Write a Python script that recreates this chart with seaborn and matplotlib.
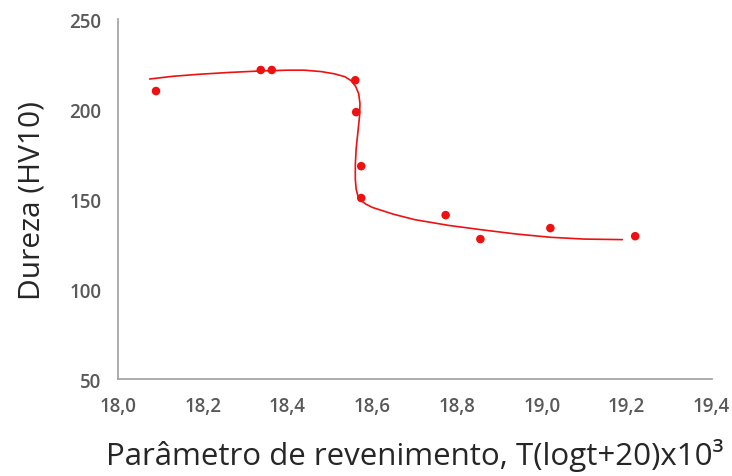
import matplotlib
matplotlib.use("Agg")
import matplotlib.pyplot as plt
import seaborn as sns
import pandas as pd

# measured points
param = [18.09, 18.337, 18.363, 18.56, 18.562, 18.574, 18.574, 18.773, 18.855, 19.02, 19.22]
dureza = [210, 221.7, 221.7, 216, 198.3, 168.3, 150.6, 141.1, 127.8, 133.9, 129.4]

# trend curve
curve_x = [18.075, 18.13, 18.19, 18.26, 18.33, 18.40, 18.44, 18.48, 18.51, 18.535,
           18.55, 18.561, 18.568, 18.571, 18.570, 18.566, 18.562, 18.560, 18.560,
           18.562, 18.566, 18.573, 18.585, 18.60, 18.65, 18.70, 18.78, 18.86,
           18.94, 19.02, 19.10, 19.19]
curve_y = [216.7, 218.2, 219.3, 220.3, 221.1, 221.6, 221.6, 220.8, 219.6, 218.0,
           215.8, 212.5, 208.5, 203.0, 196.0, 187.0, 178.0, 169.0, 161.0,
           155.5, 151.8, 149.2, 147.2, 145.4, 141.6, 138.6, 135.4, 132.9,
           130.6, 128.8, 127.8, 127.5]

xticks = [18.0, 18.2, 18.4, 18.6, 18.8, 19.0, 19.2, 19.4]
xtick_labels = ["18,0", "18,2", "18,4", "18,6", "18,8", "19,0", "19,2", "19,4"]
yticks = [50, 100, 150, 200, 250]

sns.set_style("white")
plt.rcParams["font.family"] = ["Open Sans", "DejaVu Sans"]

df = pd.DataFrame({"x": param, "y": dureza})
curve = pd.DataFrame({"x": curve_x, "y": curve_y})

fig = plt.figure(figsize=(7.32, 4.77), dpi=100)
ax = fig.add_axes([0.161, 0.203, 0.811, 0.755])

sns.lineplot(data=curve, x="x", y="y", sort=False, estimator=None,
             color="#ee1111", linewidth=1.2, ax=ax)
sns.scatterplot(data=df, x="x", y="y", color="#ee1111", s=38,
                edgecolor="none", ax=ax, zorder=3)

ax.set_xlim(18.0, 19.4)
ax.set_ylim(50, 250)
ax.set_xticks(xticks)
ax.set_xticklabels(xtick_labels)
ax.set_yticks(yticks)
ax.tick_params(length=0, labelsize=13.5, labelcolor="#595959", pad=12)
for lab in ax.get_xticklabels() + ax.get_yticklabels():
    lab.set_fontweight("semibold")

for side in ["top", "right"]:
    ax.spines[side].set_visible(False)
for side in ["left", "bottom"]:
    ax.spines[side].set_color("#a6a6a6")
    ax.spines[side].set_linewidth(1.3)

ax.set_xlabel("Parâmetro de revenimento, T(logt+20)x10³", fontsize=22.5, labelpad=16)
ax.set_ylabel("Dureza (HV10)", fontsize=21.5, labelpad=16)

fig.savefig("out.png", dpi=100)
